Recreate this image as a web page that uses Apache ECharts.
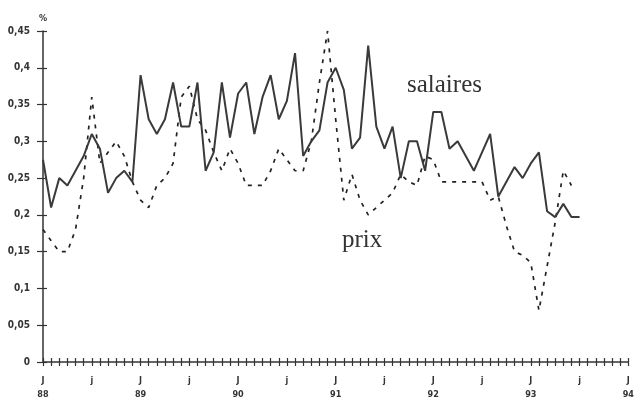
<!DOCTYPE html>
<html>
<head>
<meta charset="utf-8">
<script src="https://cdn.jsdelivr.net/npm/echarts@6/dist/echarts.min.js"></script>
<style>
html,body{margin:0;padding:0;background:#fff;}
#chart{width:637px;height:403px;}
</style>
</head>
<body>
<div id="chart"></div>
<script>
// Tick labels
const yearLabels = ['88','89','90','91','92','93','94'];
const janMark = 'J';
const julMark = 'j';
const yTickLabels = ['0','0,05','0,1','0,15','0,2','0,25','0,3','0,35','0,4','0,45'];

// Monthly series, from Jan 88
const salaires = [
  0.275,0.21,0.25,0.24,0.26,0.28,0.31,0.29,0.23,0.25,0.26,0.245,
  0.39,0.33,0.31,0.33,0.38,0.32,0.32,0.38,0.26,0.285,0.38,0.305,
  0.365,0.38,0.31,0.36,0.39,0.33,0.355,0.42,0.28,0.30,0.315,0.38,
  0.40,0.37,0.29,0.305,0.43,0.32,0.29,0.32,0.25,0.30,0.30,0.26,
  0.34,0.34,0.29,0.30,0.28,0.26,0.285,0.31,0.225,0.245,0.265,0.25,
  0.27,0.285,0.205,0.197,0.215,0.197,0.197
];
const prix = [
  0.18,0.165,0.15,0.15,0.18,0.25,0.36,0.27,0.285,0.30,0.28,0.245,
  0.22,0.21,0.24,0.25,0.27,0.36,0.375,0.33,0.315,0.285,0.26,0.29,
  0.27,0.24,0.24,0.24,0.26,0.29,0.275,0.26,0.26,0.30,0.38,0.45,
  0.33,0.22,0.255,0.22,0.20,0.21,0.22,0.23,0.255,0.245,0.24,0.28,
  0.275,0.245,0.245,0.245,0.245,0.245,0.245,0.22,0.225,0.185,0.15,0.145,
  0.135,0.07,0.13,0.19,0.26,0.24
];

const categories = [];
for (let y = 0; y < yearLabels.length; y++) {
  for (let m = 0; m < 12; m++) {
    if (y === yearLabels.length - 1 && m > 0) break;
    if (m === 0) categories.push(janMark + '\n' + yearLabels[y]);
    else if (m === 6) categories.push(julMark);
    else categories.push('');
  }
}

const ink = '#333';
const chart = echarts.init(document.getElementById('chart'), null, {renderer: 'canvas'});
const axisFont = {fontFamily: '"Liberation Sans Narrow","DejaVu Sans Condensed",sans-serif', fontWeight: 'bold', fontSize: 10, color: ink};

chart.setOption({
  animation: false,
  backgroundColor: '#fff',
  grid: {left: 43, right: 7, top: 31, bottom: 41},
  xAxis: [{
    type: 'category',
    data: categories,
    boundaryGap: false,
    axisLine: {lineStyle: {color: ink, width: 1.5}},
    axisTick: {show: true, interval: 0, length: 4, lineStyle: {color: ink, width: 1.2}},
    axisLabel: Object.assign({interval: 0, margin: 12, lineHeight: 14, align: 'center'}, axisFont, {fontSize: 9}),
    splitLine: {show: false}
  }, {
    type: 'category',
    data: categories,
    boundaryGap: false,
    position: 'bottom',
    axisLine: {show: false},
    axisTick: {show: true, inside: true, interval: 0, length: 4, lineStyle: {color: ink, width: 1.2}},
    axisLabel: {show: false},
    splitLine: {show: false}
  }],
  yAxis: [{
    type: 'value',
    min: 0, max: 0.45, interval: 0.05,
    name: '%',
    nameLocation: 'end',
    nameGap: 8,
    nameTextStyle: Object.assign({}, axisFont, {fontSize: 9, align: 'center', padding: [0, 0, 0, 0]}),
    axisLine: {show: true, lineStyle: {color: ink, width: 1.5}},
    axisTick: {show: true, length: 6, lineStyle: {color: ink, width: 1.2}},
    axisLabel: Object.assign({margin: 13, formatter: v => yTickLabels[Math.round(v / 0.05)]}, axisFont),
    splitLine: {show: false}
  }, {
    type: 'value',
    min: 0, max: 0.45, interval: 0.05,
    position: 'left',
    axisLine: {show: false},
    axisTick: {show: true, inside: true, length: 4, lineStyle: {color: ink, width: 1.2}},
    axisLabel: {show: false},
    splitLine: {show: false}
  }],
  series: [{
    name: 'salaires',
    type: 'line',
    data: salaires,
    symbol: 'none',
    lineStyle: {color: '#3a3a3a', width: 2},
    z: 3
  }, {
    name: 'prix',
    type: 'line',
    data: prix,
    symbol: 'none',
    lineStyle: {color: '#222', width: 1.7, type: [4, 6]},
    z: 2
  }],
  graphic: [{
    type: 'text', left: 407, top: 73,
    style: {text: 'salaires', font: '25px "Liberation Serif", serif', fill: '#333'}
  }, {
    type: 'text', left: 342, top: 228,
    style: {text: 'prix', font: '25px "Liberation Serif", serif', fill: '#333'}
  }]
});
</script>
</body>
</html>
